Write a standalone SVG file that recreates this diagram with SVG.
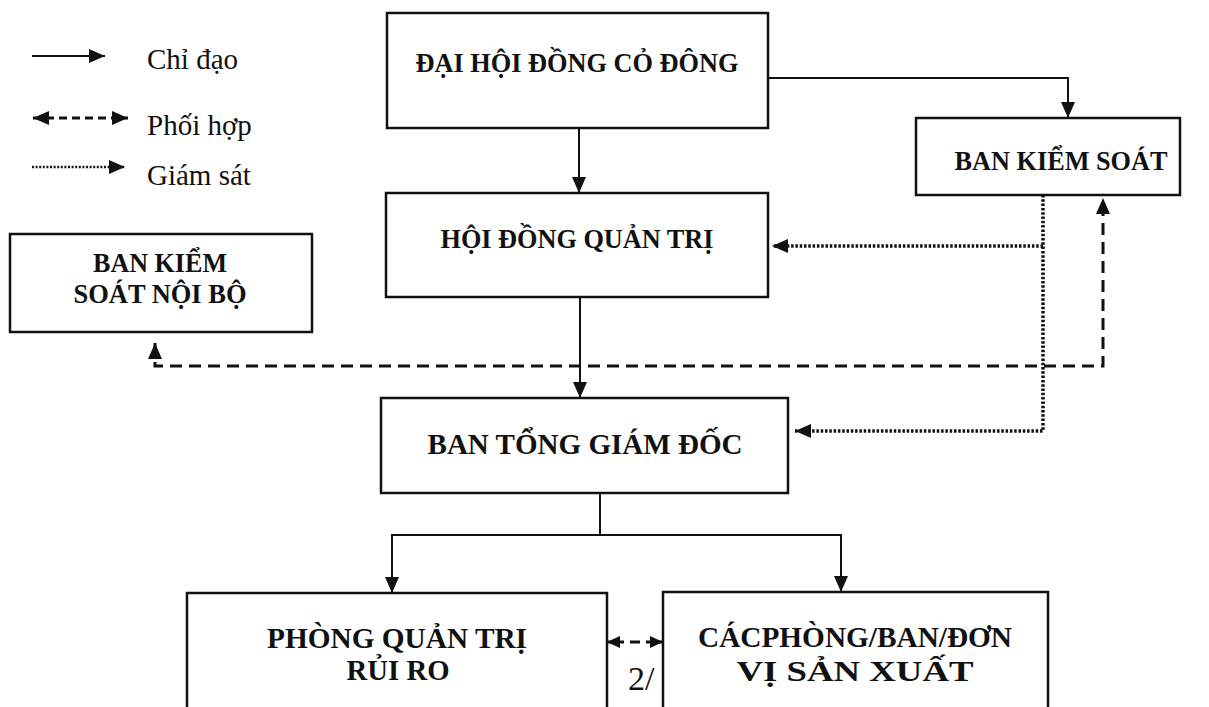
<svg xmlns="http://www.w3.org/2000/svg" width="1209" height="707" viewBox="0 0 1209 707">
<style>
.box{fill:#fff;stroke:#111;stroke-width:2.5}
.t{font-family:"Liberation Serif","Times New Roman",serif;font-weight:bold;fill:#111;text-anchor:middle}
.lg{font-family:"Liberation Serif","Times New Roman",serif;fill:#111;font-size:29px}
.solid{fill:none;stroke:#111;stroke-width:2}
.dash{fill:none;stroke:#111;stroke-width:3;stroke-dasharray:12 7}
.dot{fill:none;stroke:#111;stroke-width:3.5;stroke-dasharray:2.5 1.8}
</style>
<defs>
<marker id="ah" viewBox="0 0 16 14" refX="16" refY="7" markerWidth="16" markerHeight="14" markerUnits="userSpaceOnUse" orient="auto-start-reverse">
<path d="M0,0 L16,7 L0,14 z" fill="#111"/>
</marker>
<marker id="ahs" viewBox="0 0 13 12" refX="13" refY="6" markerWidth="13" markerHeight="12" markerUnits="userSpaceOnUse" orient="auto-start-reverse">
<path d="M0,0 L13,6 L0,12 z" fill="#111"/>
</marker>
</defs>
<rect width="1209" height="707" fill="#fff"/>

<g id="legend">
<line class="solid" x1="32" y1="56" x2="105" y2="56" marker-end="url(#ah)"/>
<text class="lg" x="147" y="69">Chỉ đạo</text>
<line class="dash" x1="33" y1="118" x2="128" y2="118" style="stroke-dasharray:8 5" marker-start="url(#ah)" marker-end="url(#ah)"/>
<text class="lg" x="147" y="135">Phối hợp</text>
<line class="dot" x1="32" y1="167" x2="125" y2="167" style="stroke-width:2.5;stroke-dasharray:2 1.6" marker-end="url(#ah)"/>
<text class="lg" x="147" y="185">Giám sát</text>
</g>

<g id="connectors">
<path class="solid" d="M579 128 V193" marker-end="url(#ah)"/>
<path class="solid" d="M768 78 H1068 V118" marker-end="url(#ah)"/>
<path class="solid" d="M580 297 V398" marker-end="url(#ah)"/>
<path class="solid" d="M600 493 V535"/>
<path class="solid" d="M392 593 V535 H841 V592" marker-start="url(#ah)" marker-end="url(#ah)"/>
<path class="dot" d="M1043 195 V431 H795" marker-end="url(#ah)"/>
<path class="dot" d="M1043 246 H772" marker-end="url(#ah)"/>
<path class="dash" d="M155 343 V366 H1103 V198" marker-start="url(#ah)" marker-end="url(#ah)"/>
<path class="solid" d="M607 642 H663" style="stroke-width:3;stroke-dasharray:17 6 10 6 17" marker-start="url(#ahs)" marker-end="url(#ahs)"/>
</g>

<g id="dhdcd">
<rect class="box" x="387" y="13" width="381" height="115"/>
<text class="t" x="577" y="72" font-size="27" textLength="323" lengthAdjust="spacingAndGlyphs">ĐẠI HỘI ĐỒNG CỎ ĐÔNG</text>
</g>

<g id="bks">
<rect class="box" x="916" y="118" width="264" height="77"/>
<text class="t" x="1061" y="170" font-size="27" textLength="213" lengthAdjust="spacingAndGlyphs">BAN KIỂM SOÁT</text>
</g>

<g id="hdqt">
<rect class="box" x="386" y="193" width="382" height="104"/>
<text class="t" x="577" y="248" font-size="27" textLength="273" lengthAdjust="spacingAndGlyphs">HỘI ĐỒNG QUẢN TRỊ</text>
</g>

<g id="bksnb">
<rect class="box" x="10" y="234" width="302" height="98"/>
<text class="t" x="160" y="272" font-size="27" textLength="134" lengthAdjust="spacingAndGlyphs">BAN KIỂM</text>
<text class="t" x="160" y="303" font-size="27" textLength="173" lengthAdjust="spacingAndGlyphs">SOÁT NỘI BỘ</text>
</g>

<g id="btgd">
<rect class="box" x="381" y="398" width="407" height="95"/>
<text class="t" x="585" y="454" font-size="29" textLength="315" lengthAdjust="spacingAndGlyphs">BAN TỔNG GIÁM ĐỐC</text>
</g>

<g id="pqtrr">
<rect class="box" x="187" y="593" width="420" height="130"/>
<text class="t" x="397" y="648" font-size="29" textLength="260" lengthAdjust="spacingAndGlyphs">PHÒNG QUẢN TRỊ</text>
<text class="t" x="398" y="680" font-size="29" textLength="103" lengthAdjust="spacingAndGlyphs">RỦI RO</text>
</g>

<g id="cpbd">
<rect class="box" x="663" y="592" width="385" height="130"/>
<text class="t" x="855" y="647" font-size="29" textLength="314" lengthAdjust="spacingAndGlyphs">CÁCPHÒNG/BAN/ĐƠN</text>
<text class="t" x="855" y="681" font-size="30" textLength="237" lengthAdjust="spacingAndGlyphs">VỊ SẢN XUẤT</text>
</g>

<text class="lg" x="628" y="690" style="font-size:34px">2/</text>
</svg>
